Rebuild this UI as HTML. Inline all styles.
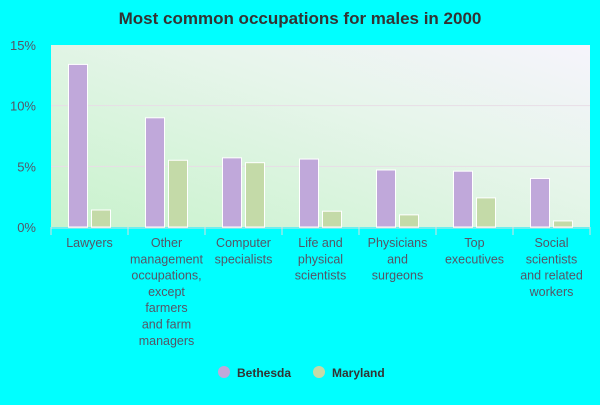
<!DOCTYPE html>
<html><head><meta charset="utf-8"><style>
body{margin:0;background:#00ffff;}
svg text{font-family:"Liberation Sans",sans-serif;}
</style></head><body>
<svg width="600" height="400" xmlns="http://www.w3.org/2000/svg">
<defs>
<linearGradient id="bg" x1="0" y1="1" x2="1" y2="0">
<stop offset="0" stop-color="#c8f2cc"/><stop offset="0.6" stop-color="#e6f5ea"/><stop offset="1" stop-color="#f6f4fc"/>
</linearGradient>
</defs>
<text x="300" y="24" text-anchor="middle" font-size="17" font-weight="bold" fill="#333">Most common occupations for males in 2000</text>
<rect x="51" y="45" width="539" height="182" fill="url(#bg)"/>
<g id="grid"></g><g id="bars"></g><g id="labels"></g>
<g>
<circle cx="224" cy="372" r="6" fill="#c0a8da"/>
<text x="237" y="377" font-size="12" font-weight="bold" fill="#333">Bethesda</text>
<circle cx="319" cy="372" r="6" fill="#c4daa8"/>
<text x="332" y="377" font-size="12" font-weight="bold" fill="#333">Maryland</text>
</g>
</svg>
<script>
const categories=[["Lawyers"],["Other","management","occupations,","except","farmers","and farm","managers"],["Computer","specialists"],["Life and","physical","scientists"],["Physicians","and","surgeons"],["Top","executives"],["Social","scientists","and related","workers"]];
const bethesda=[13.4,9.0,5.7,5.6,4.7,4.6,4.0];
const maryland=[1.4,5.5,5.3,1.3,1.0,2.4,0.5];
const yTicks=[0,5,10,15];
const NS="http://www.w3.org/2000/svg";
const x0=51,x1=590,yb=227,yt=45,ymax=15;
const gw=(x1-x0)/categories.length;
const y=v=>yb-(v/ymax)*(yb-yt);
function mk(t,a,p){const e=document.createElementNS(NS,t);for(const k in a)e.setAttribute(k,a[k]);p.appendChild(e);return e;}
const grid=document.getElementById('grid'),bars=document.getElementById('bars'),labels=document.getElementById('labels');
yTicks.forEach(t=>{
 if(t>0&&t<ymax){const l=mk('line',{x1:x0,x2:x1,y1:y(t),y2:y(t),stroke:'#e8dde6','stroke-width':1},grid);
 
 }
 const tx=mk('text',{x:36,y:y(t)+5,'text-anchor':'end','font-size':13,fill:'#556'},grid);tx.textContent=t+'%';
 
 
});
const ax=mk('line',{x1:x0,x2:x1,y1:yb+1,y2:yb+1,stroke:'#ddd','stroke-width':1},grid);


categories.forEach((c,i)=>{
 const gx=x0+i*gw;
 const tk=mk('line',{x1:gx,x2:gx,y1:yb,y2:yb+8,stroke:'#ddd'},grid);
 
 
 const b1=mk('rect',{x:gx+17.5,y:y(bethesda[i]),width:19,height:yb-y(bethesda[i]),fill:'#c0a8da',stroke:'#fff','stroke-width':1},bars);
 
 
 const b2=mk('rect',{x:gx+40.5,y:y(maryland[i]),width:19,height:yb-y(maryland[i]),fill:'#c4daa8',stroke:'#fff','stroke-width':1},bars);
 
 
 c.forEach((ln,j)=>{const t=mk('text',{x:gx+gw/2,y:247+j*16.3,'text-anchor':'middle','font-size':12.5,fill:'#556'},labels);t.textContent=ln;
 
 });
});
const last=mk('line',{x1:x1,x2:x1,y1:yb,y2:yb+8,stroke:'#ddd'},grid);


</script>
</body></html>
